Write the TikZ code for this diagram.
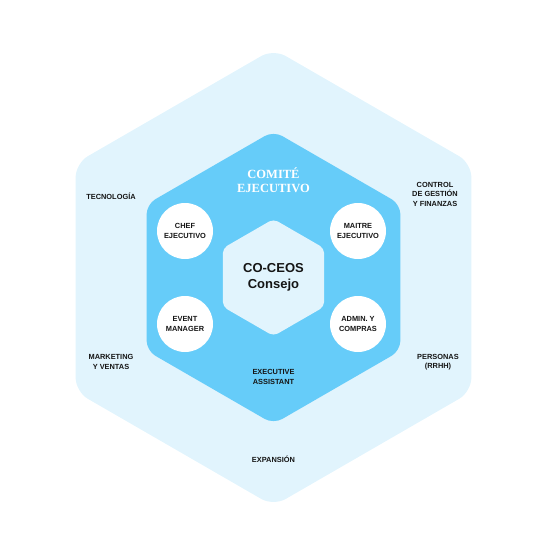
\documentclass[tikz,border=0pt]{standalone}
\usepackage{fontspec}
\setmainfont{Liberation Sans}
\newfontfamily\titlefont{Liberation Serif}
\usetikzlibrary{shapes.geometric}
\definecolor{paleblue}{HTML}{E1F4FD}
\definecolor{skyblue}{HTML}{66CCF9}
\definecolor{inkblack}{HTML}{151515}
\begin{document}
\begin{tikzpicture}[x=1pt,y=-1pt]
\tikzstyle{hexa} = [regular polygon, regular polygon sides=6, shape border rotate=30, inner sep=0pt]
\tikzstyle{outerhex} = [hexa, minimum size=457, fill=paleblue, rounded corners=14pt]
\tikzstyle{comitehex} = [hexa, minimum size=293, fill=skyblue, rounded corners=10pt]
\tikzstyle{corehex} = [hexa, minimum size=117, fill=paleblue, rounded corners=5pt]
\tikzstyle{role} = [circle, minimum size=56, inner sep=0pt, fill=white]
\tikzstyle{tag} = [align=center, inner sep=0pt, text=inkblack, font=\bfseries\fontsize{7.4}{9.5}\selectfont]

\useasboundingbox (0,0) rectangle (547,555);

%hexagons
\node (OUT) [outerhex] at (273.5,277.5) {};
\node (CE) [comitehex] at (OUT.center) {};
\node (CO) [corehex, align=center, text=inkblack, font=\bfseries\fontsize{13}{16}\selectfont] at (OUT.center) {CO-CEOS\\Consejo};

%title
\node (TI) [align=center, inner sep=0pt, text=white, font=\titlefont\bfseries\fontsize{12.5}{14.5}\selectfont] at (273.5,180) {COMITÉ\\EJECUTIVO};

%circles
\node (CH) [role, tag] at (185,231) {CHEF\\EJECUTIVO};
\node (MA) [role, tag] at (358,231) {MAITRE\\EJECUTIVO};
\node (EV) [role, tag] at (185,324) {EVENT\\MANAGER};
\node (AD) [role, tag] at (358,324) {ADMIN. Y\\COMPRAS};

%outer texts
\node (EA) [tag] at (273.5,377) {EXECUTIVE\\ASSISTANT};
\node (TE) [tag] at (111,196) {TECNOLOGÍA};
\node (CG) [tag] at (435,194) {CONTROL\\DE GESTIÓN\\Y FINANZAS};
\node (MK) [tag] at (111,362) {MARKETING\\Y VENTAS};
\node (PE) [tag] at (438,362) {PERSONAS\\(RRHH)};
\node (EX) [tag] at (273.5,459) {EXPANSIÓN};
\end{tikzpicture}
\end{document}
